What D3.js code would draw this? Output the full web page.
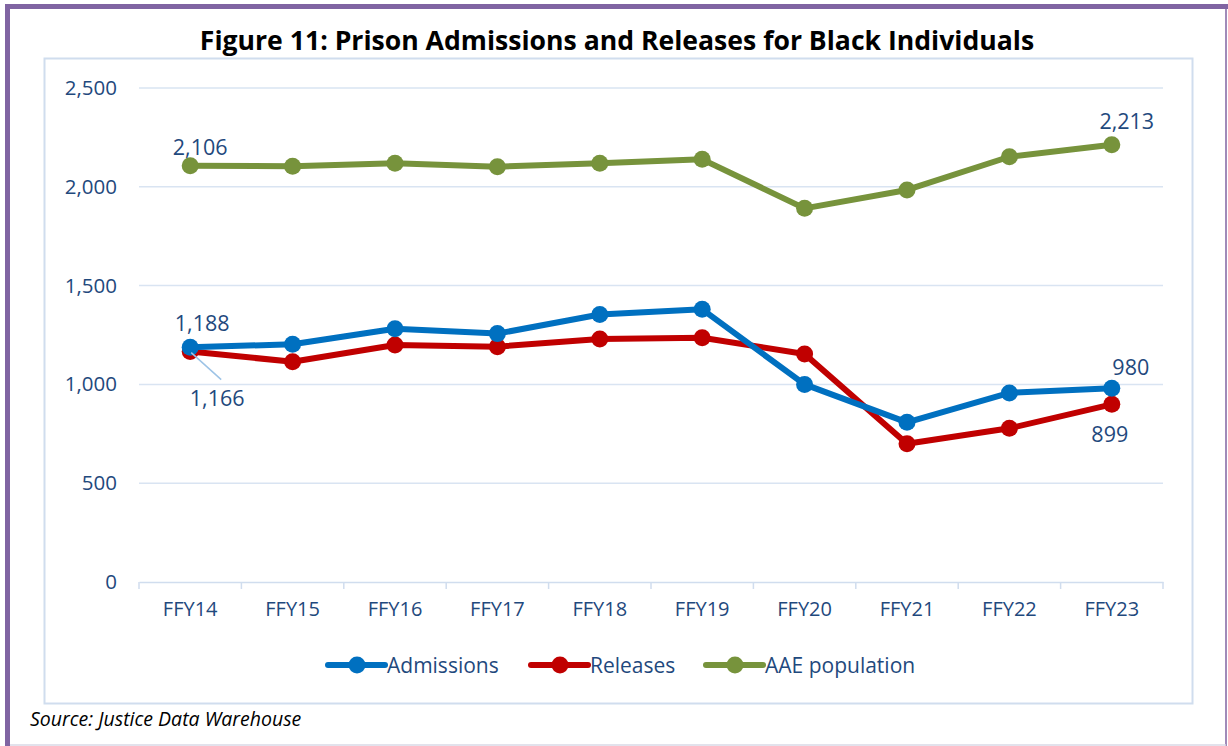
<!DOCTYPE html>
<html>
<head>
<meta charset="utf-8">
<script src="https://cdn.jsdelivr.net/npm/d3@7"></script>
<style>
body{margin:0;background:#fff;}
text{font-family:"Open Sans","Noto Sans",sans-serif;}
</style>
</head>
<body>
<svg id="chart"></svg>
<script>
var screen={width:1228,height:746}
var margins={top:88,right:65,bottom:164,left:139}

// data
var years=["FFY14","FFY15","FFY16","FFY17","FFY18","FFY19","FFY20","FFY21","FFY22","FFY23"]
var admissions=[1188,1203,1282,1257,1354,1380,1000,808,957,980]
var releases=[1166,1115,1199,1191,1230,1236,1154,700,778,899]
var aae=[2106,2104,2119,2102,2119,2139,1891,1984,2152,2213]
var yTicks=[0,500,1000,1500,2000,2500]

var seriesNames=["Admissions","Releases","AAE population"]
var seriesColors=["#0070C0","#C00000","#77933C"]
var textColor="#1F497D"

var svg=d3.select("#chart")
    .attr("width",screen.width)
    .attr("height",screen.height)

// outer frame
svg.append("line").attr("x1",5).attr("x2",1228).attr("y1",6.5).attr("y2",6.5)
    .style("stroke","#8064A2").style("stroke-width",5)
svg.append("line").attr("x1",7.5).attr("x2",7.5).attr("y1",4).attr("y2",746)
    .style("stroke","#8064A2").style("stroke-width",5)
svg.append("line").attr("x1",1226).attr("x2",1226).attr("y1",4).attr("y2",746)
    .style("stroke","#8064A2").style("stroke-width",1.5)
svg.append("line").attr("x1",10).attr("x2",1226).attr("y1",745).attr("y2",745)
    .style("stroke","#D9D9E6").style("stroke-width",1.5)

// chart area border
svg.append("rect").attr("x",44.5).attr("y",58.5).attr("width",1148).attr("height",645)
    .style("fill","none").style("stroke","#D0DDEE").style("stroke-width",2)

svg.append("text").attr("x",617).attr("y",50).attr("text-anchor","middle")
    .style("font-size","26.6px").style("font-weight","bold").style("fill","#000")
    .text("Figure 11: Prison Admissions and Releases for Black Individuals")

var plotW=screen.width-margins.left-margins.right
var plotH=screen.height-margins.top-margins.bottom

var x=d3.scaleBand().domain(years).range([margins.left,margins.left+plotW])
var y=d3.scaleLinear().domain([0,2500]).range([margins.top+plotH,margins.top])

// gridlines
svg.append("g").selectAll("line").data(yTicks.slice(1)).enter().append("line")
    .attr("x1",margins.left).attr("x2",margins.left+plotW)
    .attr("y1",function(d){return y(d)}).attr("y2",function(d){return y(d)})
    .style("stroke","#D9E4F2").style("stroke-width",1.5)

// x axis
var xAxis=svg.append("g").attr("transform","translate(0,"+y(0)+")")
    .call(d3.axisBottom(x).tickSize(0).tickPadding(20))
xAxis.select(".domain").style("stroke","#D0DDEE").style("stroke-width",1.5)
xAxis.selectAll("text").style("font-size","20px").style("fill",textColor)
svg.append("g").selectAll("line").data(d3.range(years.length+1)).enter().append("line")
    .attr("x1",function(i){return margins.left+i*x.step()})
    .attr("x2",function(i){return margins.left+i*x.step()})
    .attr("y1",y(0)).attr("y2",y(0)+7)
    .style("stroke","#D0DDEE").style("stroke-width",1.5)

// y axis labels
var yAxis=svg.append("g").attr("transform","translate("+(margins.left-22)+",0)")
    .call(d3.axisLeft(y).tickValues(yTicks).tickSize(0).tickPadding(0).tickFormat(d3.format(",")))
yAxis.select(".domain").remove()
yAxis.selectAll("text").style("font-size","20.5px").style("fill",textColor)

var series=[admissions,releases,aae]
var line=d3.line()
    .x(function(d,i){return x(years[i])+x.bandwidth()/2})
    .y(function(d){return y(d)})

// draw AAE first, then releases, then admissions on top
var order=[2,1,0]
order.forEach(function(k){
    var g=svg.append("g")
    g.append("path").datum(series[k]).attr("d",line)
        .style("fill","none").style("stroke",seriesColors[k]).style("stroke-width",6)
        .style("stroke-linejoin","round")
    g.selectAll("circle").data(series[k]).enter().append("circle")
        .attr("cx",function(d,i){return x(years[i])+x.bandwidth()/2})
        .attr("cy",function(d){return y(d)})
        .attr("r",8.5)
        .style("fill",seriesColors[k])
})

// data labels
var cx=function(i){return x(years[i])+x.bandwidth()/2}
var fmt=d3.format(",")
var labels=[
    {v:aae[0],i:0,dx:10,dy:-11},
    {v:aae[9],i:9,dx:15,dy:-16},
    {v:admissions[0],i:0,dx:12,dy:-16},
    {v:admissions[9],i:9,dx:19,dy:-13},
    {v:releases[9],i:9,dx:-2,dy:38},
    {v:releases[0],i:0,dx:27,dy:54}
]
svg.append("line").attr("x1",cx(0)+1).attr("y1",y(releases[0])+1)
    .attr("x2",cx(0)+31).attr("y2",y(releases[0])+28)
    .style("stroke","#9DC3E6").style("stroke-width",1.5)
svg.append("g").selectAll("text").data(labels).enter().append("text")
    .attr("x",function(d){return cx(d.i)+d.dx})
    .attr("y",function(d){return y(d.v)+d.dy})
    .attr("text-anchor","middle")
    .style("font-size","21.5px").style("fill",textColor)
    .text(function(d){return fmt(d.v)})

// legend
var legendX=[328,531,706]
var leg=svg.append("g").selectAll("g").data(seriesNames).enter().append("g")
    .attr("transform",function(d,i){return "translate("+legendX[i]+",665)"})
leg.append("line").attr("x1",0).attr("x2",57).attr("y1",0).attr("y2",0)
    .style("stroke",function(d,i){return seriesColors[i]}).style("stroke-width",6)
    .style("stroke-linecap","round")
leg.append("circle").attr("cx",29).attr("cy",0).attr("r",8.5)
    .style("fill",function(d,i){return seriesColors[i]})
leg.append("text").attr("x",59).attr("y",7.5)
    .style("font-size","21px").style("fill",textColor)
    .text(function(d){return d})

svg.append("text").attr("x",30).attr("y",726)
    .style("font-size","19.5px").style("font-style","italic").style("fill","#000")
    .text("Source: Justice Data Warehouse")
</script>
</body>
</html>
